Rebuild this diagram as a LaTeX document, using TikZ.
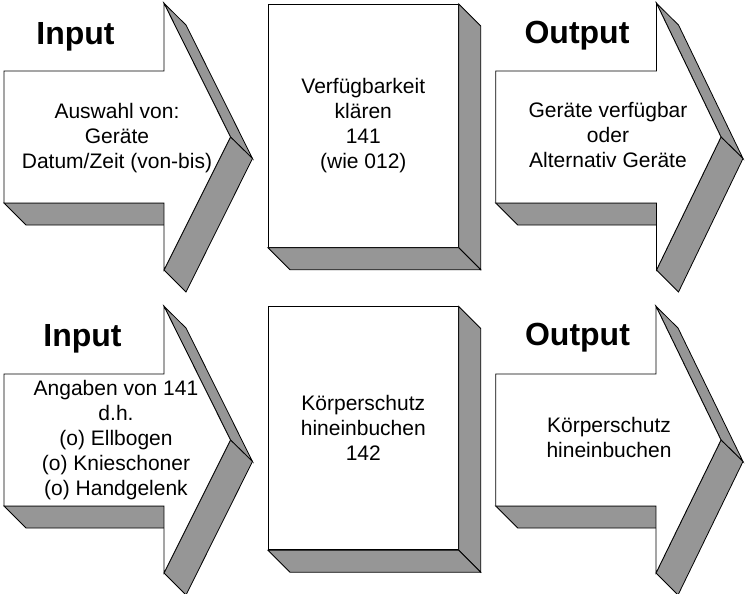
\documentclass[tikz,border=0pt]{standalone}
\usepackage{fontspec}
\setmainfont{Liberation Sans}
\usetikzlibrary{calc}
\definecolor{sidegray}{RGB}{150,150,150}
\tikzset{
  side/.style={fill=sidegray, draw=black, line width=0.8pt, line join=miter},
  frontface/.style={fill=white, draw=black, line width=0.8pt, line join=miter},
  bodytext/.style={align=center, font=\fontsize{21}{25}\selectfont, inner sep=0pt},
  titletext/.style={font=\fontsize{32}{38}\selectfont\bfseries, inner sep=0pt, anchor=base},
  boxnode/.style={frontface, minimum width=190pt, minimum height=243pt, inner sep=0pt,
    align=center, font=\fontsize{21}{25}\selectfont},
}
% #1 left x, #2 head x, #3 tip x, #4 vertical offset
\newcommand\ioarrow[4]{%
  \begin{scope}[shift={(0,#4)}]
    \draw[side] (#1,203) -- (#2,203) -- (#2+22,225) -- (#1+22,225) -- cycle;
    \draw[side] (#2,3.3) -- (#3,137) -- (#3+22,158.5) -- (#2+22,25) -- cycle;
    \draw[side] (#3,137) -- (#2,270) -- (#2+22,292) -- (#3+22,158.5) -- cycle;
    \draw[frontface] (#1,71) -- (#2,71) -- (#2,3.3) -- (#3,137) -- (#2,270)
      -- (#2,203) -- (#1,203) -- cycle;
  \end{scope}}
\newcommand\ioboxsides[1]{%
  \draw[side] (#1.north east) -- ($(#1.north east)+(22,22)$) -- ($(#1.south east)+(22,22)$)
    -- (#1.south east) -- cycle;
  \draw[side] (#1.south west) -- (#1.south east) -- ($(#1.south east)+(22,22)$)
    -- ($(#1.south west)+(22,22)$) -- cycle;}
\begin{document}
\begin{tikzpicture}[x=1pt, y=-1pt]
  \useasboundingbox (0,0) rectangle (747,594);
  % top row
  \ioarrow{4}{164}{230.5}{0}
  \ioarrow{495.7}{656.5}{721}{0}
  \node[boxnode] (b1) at (363.3,125.8) {Verfügbarkeit\\klären\\141\\(wie 012)};
  \ioboxsides{b1}
  \node[titletext] (in1) at (75.5,44.3) {Input};
  \node[titletext] (out1) at (577,43.8) {Output};
  \node[bodytext] (t1) at (117,138) {Auswahl von:\\Geräte\\Datum/Zeit (von-bis)};
  \node[bodytext] (t3) at (608,135) {Geräte verfügbar\\oder\\Alternativ Geräte};
  % bottom row
  \ioarrow{4}{164}{230.5}{303}
  \ioarrow{495.7}{656}{721}{303}
  \node[boxnode] (b2) at (363.3,428.3) {Körperschutz\\hineinbuchen\\142};
  \ioboxsides{b2}
  \node[titletext] (in2) at (82.5,346) {Input};
  \node[titletext] (out2) at (577.5,345) {Output};
  \node[bodytext] (t2) at (116,440.4) {Angaben von 141\\d.h.\\(o) Ellbogen\\(o) Knieschoner\\(o) Handgelenk};
  \node[bodytext] (t4) at (609,437.8) {Körperschutz\\hineinbuchen};
\end{tikzpicture}
\end{document}
